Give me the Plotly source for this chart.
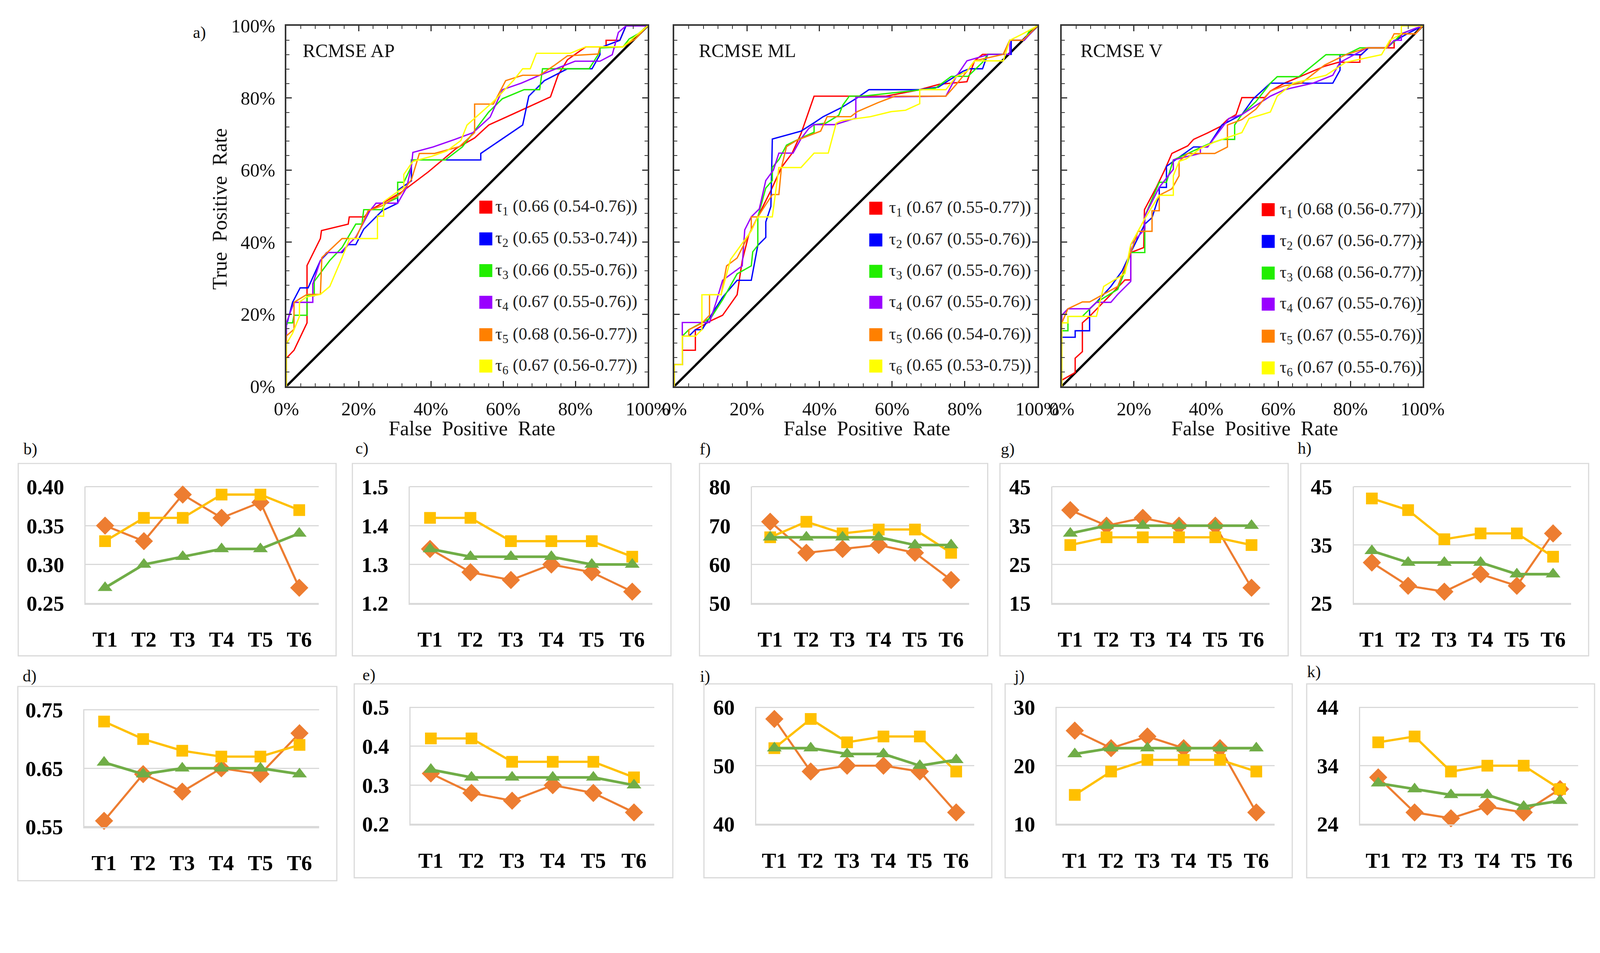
import plotly.graph_objects as go

W, H = 4331, 2439

# ---------------- ROC data (panel a: RCMSE AP) ----------------
AP_T1_FPR = [0, 0, .021, .057, .057, .094, .097, .171, .174, .216, .229, .316, .393, .470, .521, .560, .624, .731, .752, .778, .829, .885, .885, .923, .940, 1]
AP_T1_TPR = [0, .078, .100, .176, .335, .410, .432, .450, .470, .470, .487, .537, .595, .660, .689, .725, .754, .803, .863, .906, .942, .942, .960, .960, 1, 1]
AP_T2_FPR = [0, 0, .017, .038, .060, .094, .115, .154, .171, .192, .214, .265, .308, .308, .346, .346, .538, .538, .654, .671, .714, .778, .846, .868, .868, .923, .940, 1]
AP_T2_TPR = [0, .168, .233, .273, .273, .349, .371, .371, .393, .393, .436, .487, .508, .544, .570, .628, .628, .646, .725, .805, .848, .881, .881, .920, .939, .960, 1, 1]
AP_T3_FPR = [0, 0, .017, .021, .057, .057, .077, .077, .120, .154, .192, .209, .214, .265, .274, .308, .308, .325, .346, .346, .440, .487, .560, .598, .658, .701, .709, .838, .868, .868, .932, .949, .974, 1]
AP_T3_TPR = [0, .176, .176, .197, .197, .251, .251, .291, .349, .385, .450, .450, .490, .490, .508, .523, .566, .566, .610, .628, .628, .664, .761, .798, .823, .823, .881, .881, .928, .939, .942, .964, .978, 1]
AP_T4_FPR = [0, 0, .021, .073, .073, .094, .111, .150, .192, .231, .248, .308, .333, .346, .350, .406, .466, .517, .564, .598, .650, .701, .799, .868, .902, .919, .940, 1]
AP_T4_TPR = [0, .176, .233, .233, .284, .349, .371, .371, .414, .487, .508, .508, .552, .610, .649, .664, .685, .704, .747, .823, .841, .863, .902, .902, .920, .982, 1, 1]
AP_T5_FPR = [0, 0, .021, .021, .057, .094, .098, .120, .154, .192, .226, .265, .316, .346, .368, .410, .479, .521, .521, .573, .607, .654, .701, .744, .778, .863, .868, .932, .966, 1]
AP_T5_TPR = [0, .140, .158, .233, .255, .255, .357, .378, .410, .410, .487, .501, .534, .573, .646, .646, .665, .704, .783, .783, .848, .863, .863, .892, .917, .922, .942, .942, .964, 1]
AP_T6_FPR = [0, 0, .017, .036, .036, .056, .094, .120, .154, .175, .252, .252, .269, .269, .325, .325, .350, .402, .444, .483, .500, .573, .628, .654, .675, .692, .786, .829, .932, .974, 1]
AP_T6_TPR = [0, .118, .147, .194, .234, .248, .255, .277, .357, .410, .410, .472, .472, .512, .552, .588, .624, .638, .653, .682, .725, .790, .848, .881, .881, .924, .924, .942, .942, .978, 1]

# ---------------- ROC data (RCMSE ML) ----------------
ML_T1_FPR = [0, 0, .022, .022, .058, .058, .101, .133, .173, .187, .205, .230, .266, .295, .324, .349, .385, .583, .676, .730, .806, .827, .849, .906, .924, .960, 1]
ML_T1_TPR = [0, .060, .060, .100, .100, .157, .182, .197, .254, .348, .420, .470, .543, .607, .646, .701, .805, .805, .823, .838, .845, .903, .921, .921, .960, .960, 1]
ML_T2_FPR = [0, 0, .022, .022, .040, .058, .076, .133, .173, .212, .230, .252, .252, .266, .270, .349, .388, .410, .460, .500, .536, .676, .727, .795, .813, .849, .863, .928, .928, .960, 1]
ML_T2_TPR = [0, .060, .060, .139, .139, .157, .157, .247, .294, .294, .391, .413, .456, .499, .686, .708, .733, .748, .773, .798, .823, .823, .830, .874, .881, .881, .921, .921, .960, .960, 1]
ML_T3_FPR = [0, 0, .022, .022, .040, .101, .133, .173, .212, .216, .230, .230, .252, .270, .270, .288, .309, .345, .385, .385, .417, .453, .464, .482, .518, .676, .719, .763, .809, .849, .863, .906, .924, .964, .978, 1]
ML_T3_TPR = [0, .060, .060, .139, .157, .190, .240, .312, .334, .373, .391, .470, .550, .571, .607, .629, .669, .687, .705, .726, .730, .752, .780, .805, .805, .823, .827, .860, .860, .899, .921, .921, .960, .960, .986, 1]
ML_T4_FPR = [0, 0, .022, .022, .097, .115, .133, .187, .194, .212, .234, .252, .273, .288, .327, .349, .370, .385, .442, .500, .500, .748, .777, .806, .867, .924, .924, .964, 1]
ML_T4_TPR = [0, .060, .060, .177, .177, .233, .294, .334, .434, .470, .492, .571, .600, .647, .647, .687, .715, .726, .726, .744, .802, .805, .860, .903, .921, .921, .960, .960, 1]
ML_T5_FPR = [0, 0, .022, .022, .040, .040, .076, .097, .097, .129, .144, .173, .212, .212, .230, .270, .288, .295, .309, .338, .403, .421, .486, .504, .561, .608, .748, .777, .806, .827, .906, .924, .960, 1]
ML_T5_TPR = [0, .060, .060, .139, .139, .157, .175, .197, .254, .254, .334, .356, .434, .470, .470, .532, .532, .607, .665, .683, .708, .748, .748, .762, .787, .805, .805, .838, .874, .903, .921, .960, .960, 1]
ML_T6_FPR = [0, 0, .022, .022, .058, .076, .076, .129, .155, .173, .212, .230, .270, .288, .349, .385, .424, .446, .460, .540, .597, .637, .676, .676, .748, .777, .806, .827, .906, .924, .960, 1]
ML_T6_TPR = [0, .060, .060, .139, .139, .157, .254, .254, .352, .377, .431, .470, .470, .607, .607, .647, .647, .730, .737, .748, .762, .766, .784, .823, .823, .860, .874, .903, .903, .960, .978, 1]

# ---------------- ROC data (RCMSE V) ----------------
V_T1_FPR = [0, 0, .037, .037, .057, .057, .077, .136, .175, .191, .191, .227, .229, .262, .286, .305, .349, .365, .404, .440, .459, .483, .499, .562, .578, .617, .728, .767, .826, .826, .850, .921, .921, .945, .980, 1]
V_T1_TPR = [0, .017, .038, .078, .096, .176, .194, .255, .295, .295, .371, .385, .490, .552, .602, .646, .667, .685, .703, .721, .740, .754, .801, .801, .819, .841, .888, .899, .899, .917, .939, .939, .957, .978, .978, 1]
V_T2_FPR = [0, 0, .037, .037, .077, .077, .096, .136, .167, .191, .230, .250, .270, .270, .290, .290, .309, .365, .404, .444, .499, .530, .578, .751, .771, .771, .830, .850, .901, .921, .957, 1]
V_T2_TPR = [0, .136, .136, .154, .154, .215, .233, .277, .320, .371, .450, .468, .530, .552, .552, .610, .624, .664, .664, .725, .754, .797, .841, .841, .877, .920, .920, .939, .939, .957, .978, 1]
V_T3_FPR = [0, 0, .017, .017, .057, .096, .155, .175, .191, .230, .230, .270, .290, .309, .349, .404, .444, .479, .479, .499, .538, .578, .597, .657, .732, .787, .826, .901, .921, .941, .980, 1]
V_T3_TPR = [0, .154, .154, .194, .194, .233, .269, .320, .371, .371, .472, .566, .566, .628, .646, .671, .685, .685, .725, .754, .790, .841, .859, .859, .920, .920, .939, .939, .957, .978, .993, 1]
V_T4_FPR = [0, 0, .017, .077, .096, .136, .155, .191, .191, .230, .230, .270, .309, .309, .349, .384, .384, .404, .463, .499, .578, .617, .696, .751, .771, .846, .901, .921, .941, .941, .980, 1]
V_T4_TPR = [0, .197, .215, .215, .233, .233, .255, .291, .393, .436, .472, .552, .602, .628, .638, .646, .664, .664, .743, .754, .805, .823, .841, .863, .899, .939, .939, .960, .960, .978, .993, 1]
V_T5_FPR = [0, 0, .017, .057, .077, .116, .155, .191, .211, .250, .250, .270, .270, .305, .325, .325, .349, .424, .459, .459, .499, .538, .578, .617, .664, .728, .787, .846, .901, .921, .980, 1]
V_T5_TPR = [0, .176, .215, .234, .234, .255, .277, .371, .430, .430, .487, .487, .530, .548, .584, .624, .646, .646, .664, .725, .740, .769, .819, .834, .841, .891, .920, .939, .939, .978, .978, 1]
V_T6_FPR = [0, 0, .017, .017, .096, .116, .175, .191, .230, .270, .309, .309, .325, .345, .384, .424, .499, .519, .578, .597, .641, .732, .787, .886, .909, .941, .941, 1]
V_T6_TPR = [0, .176, .176, .194, .194, .277, .313, .393, .465, .530, .530, .584, .624, .631, .660, .678, .704, .743, .761, .805, .841, .863, .899, .920, .960, .978, 1, 1]

DIAG = [0, 1]

AP_AUC = ["0.66 (0.54-0.76)", "0.65 (0.53-0.74)", "0.66 (0.55-0.76)", "0.67 (0.55-0.76)", "0.68 (0.56-0.77)", "0.67 (0.56-0.77)"]
ML_AUC = ["0.67 (0.55-0.77)", "0.67 (0.55-0.76)", "0.67 (0.55-0.76)", "0.67 (0.55-0.76)", "0.66 (0.54-0.76)", "0.65 (0.53-0.75)"]
V_AUC = ["0.68 (0.56-0.77)", "0.67 (0.56-0.77)", "0.68 (0.56-0.77)", "0.67 (0.55-0.76)", "0.67 (0.55-0.76)", "0.67 (0.55-0.76)"]
ROC_TITLES = ["RCMSE AP", "RCMSE ML", "RCMSE V"]
ROC_COLORS = ["#FF0000", "#0000FF", "#22EE00", "#9900FF", "#FF8000", "#FFFF00"]

# ---------------- small line panels ----------------
CATS = ["T1", "T2", "T3", "T4", "T5", "T6"]
B_ORANGE = [0.35, 0.33, 0.39, 0.36, 0.38, 0.27]
B_YELLOW = [0.33, 0.36, 0.36, 0.39, 0.39, 0.37]
B_GREEN = [0.27, 0.30, 0.31, 0.32, 0.32, 0.34]
C_ORANGE = [1.34, 1.28, 1.26, 1.30, 1.28, 1.23]
C_YELLOW = [1.42, 1.42, 1.36, 1.36, 1.36, 1.32]
C_GREEN = [1.34, 1.32, 1.32, 1.32, 1.30, 1.30]
F_ORANGE = [71, 63, 64, 65, 63, 56]
F_YELLOW = [67, 71, 68, 69, 69, 63]
F_GREEN = [67, 67, 67, 67, 65, 65]
G_ORANGE = [39, 35, 37, 35, 35, 19]
G_YELLOW = [30, 32, 32, 32, 32, 30]
G_GREEN = [33, 35, 35, 35, 35, 35]
H_ORANGE = [32, 28, 27, 30, 28, 37]
H_YELLOW = [43, 41, 36, 37, 37, 33]
H_GREEN = [34, 32, 32, 32, 30, 30]
D_ORANGE = [0.56, 0.64, 0.61, 0.65, 0.64, 0.71]
D_YELLOW = [0.73, 0.70, 0.68, 0.67, 0.67, 0.69]
D_GREEN = [0.66, 0.64, 0.65, 0.65, 0.65, 0.64]
E_ORANGE = [0.33, 0.28, 0.26, 0.30, 0.28, 0.23]
E_YELLOW = [0.42, 0.42, 0.36, 0.36, 0.36, 0.32]
E_GREEN = [0.34, 0.32, 0.32, 0.32, 0.32, 0.30]
I_ORANGE = [58, 49, 50, 50, 49, 42]
I_YELLOW = [53, 58, 54, 55, 55, 49]
I_GREEN = [53, 53, 52, 52, 50, 51]
J_ORANGE = [26, 23, 25, 23, 23, 12]
J_YELLOW = [15, 19, 21, 21, 21, 19]
J_GREEN = [22, 23, 23, 23, 23, 23]
K_ORANGE = [32, 26, 25, 27, 26, 30]
K_YELLOW = [38, 39, 33, 34, 34, 30]
K_GREEN = [31, 30, 29, 29, 27, 28]

SERIF = "Liberation Serif"

# The photographed page shows the figure slightly magnified and shifted;
# positions below are given in reference-picture pixels and mapped back.
SC = 1.033
OX, OY = 44, 38


def fx(px):
    return ((px - OX) / SC) / W


def fy(py):
    return 1 - ((py - OY) / SC) / H


def sz(v):
    return v / SC


def isz(v):
    return int(round(v / SC))


fig = go.Figure()
layout = dict(width=W, height=H, margin=dict(l=0, r=0, t=0, b=0, pad=0),
              paper_bgcolor="white", plot_bgcolor="white", showlegend=False, autosize=False)
shapes = []
annotations = []

# ---------------- ROC panels ----------------
roc_sets = [
    [(AP_T1_FPR, AP_T1_TPR), (AP_T2_FPR, AP_T2_TPR), (AP_T3_FPR, AP_T3_TPR),
     (AP_T4_FPR, AP_T4_TPR), (AP_T5_FPR, AP_T5_TPR), (AP_T6_FPR, AP_T6_TPR)],
    [(ML_T1_FPR, ML_T1_TPR), (ML_T2_FPR, ML_T2_TPR), (ML_T3_FPR, ML_T3_TPR),
     (ML_T4_FPR, ML_T4_TPR), (ML_T5_FPR, ML_T5_TPR), (ML_T6_FPR, ML_T6_TPR)],
    [(V_T1_FPR, V_T1_TPR), (V_T2_FPR, V_T2_TPR), (V_T3_FPR, V_T3_TPR),
     (V_T4_FPR, V_T4_TPR), (V_T5_FPR, V_T5_TPR), (V_T6_FPR, V_T6_TPR)],
]
roc_aucs = [AP_AUC, ML_AUC, V_AUC]
roc_xpx = [(775, 1750), (1822, 2802), (2868, 3842)]
roc_ypx = (70, 1046)
leg_sq_x = [0.534, 0.537, 0.554]
leg_tx_x = [0.576, 0.589, 0.602]
leg_rows = [[0.497, 0.409, 0.321, 0.233, 0.143, 0.056],
            [0.494, 0.406, 0.319, 0.233, 0.143, 0.056],
            [0.490, 0.402, 0.314, 0.228, 0.139, 0.051]]
title_x = [0.043, 0.065, 0.05]
xtitle_px = [1276, 2342, 3389]
AXC = "#333333"

for p in range(3):
    n = p + 1
    xs = "" if n == 1 else str(n)
    xa = dict(domain=[fx(roc_xpx[p][0]), fx(roc_xpx[p][1])], anchor="y" + xs,
              range=[0, 1], tickvals=[0, 0.2, 0.4, 0.6, 0.8, 1.0], tickformat=".0%",
              ticks="inside", ticklen=sz(14), tickwidth=sz(3), tickcolor=AXC,
              showline=True, linecolor=AXC, linewidth=sz(4), mirror="ticks",
              showgrid=False, zeroline=False, fixedrange=True,
              minor=dict(dtick=0.04, tick0=0, ticks="inside", ticklen=sz(8), tickwidth=sz(2), tickcolor=AXC),
              tickfont=dict(family=SERIF, size=sz(50), color="#111111"), ticklabelstandoff=isz(12))
    ya = dict(xa)
    ya["domain"] = [fy(roc_ypx[1]), fy(roc_ypx[0])]
    ya["anchor"] = "x" + xs
    ya["showticklabels"] = (p == 0)
    ya["ticklabelstandoff"] = isz(16)
    layout["xaxis" + xs] = xa
    layout["yaxis" + xs] = ya

    fig.add_trace(go.Scatter(x=DIAG, y=DIAG, mode="lines", line=dict(color="black", width=sz(6)),
                             xaxis="x" + xs, yaxis="y" + xs, hoverinfo="skip"))
    for k, (fpr, tpr) in enumerate(roc_sets[p]):
        fig.add_trace(go.Scatter(x=fpr, y=tpr, mode="lines",
                                 line=dict(color=ROC_COLORS[k], width=sz(3.5)),
                                 xaxis="x" + xs, yaxis="y" + xs))
        yc = leg_rows[p][k]
        shapes.append(dict(type="rect", xref="x" + xs + " domain", yref="y" + xs + " domain",
                           x0=leg_sq_x[p], x1=leg_sq_x[p] + 0.036, y0=yc - 0.018, y1=yc + 0.018,
                           fillcolor=ROC_COLORS[k], line=dict(width=0)))
        annotations.append(dict(xref="x" + xs + " domain", yref="y" + xs + " domain",
                                x=leg_tx_x[p], y=yc, xanchor="left", yanchor="middle", showarrow=False,
                                text="τ<sub>%d</sub> (%s)" % (k + 1, roc_aucs[p][k]),
                                font=dict(family=SERIF, size=sz(46), color="#222222")))
    annotations.append(dict(xref="x" + xs + " domain", yref="y" + xs + " domain",
                            x=title_x[p], y=0.931, xanchor="left", yanchor="middle", showarrow=False,
                            text=ROC_TITLES[p], font=dict(family=SERIF, size=sz(50), color="#111111")))
    annotations.append(dict(xref="paper", yref="paper", x=fx(xtitle_px[p]), y=fy(1160),
                            xanchor="center", yanchor="middle", showarrow=False,
                            text="False  Positive  Rate", font=dict(family=SERIF, size=sz(54), color="#111111")))

annotations.append(dict(xref="paper", yref="paper", x=fx(594), y=fy(566), textangle=-90,
                        xanchor="center", yanchor="middle", showarrow=False,
                        text="True  Positive  Rate", font=dict(family=SERIF, size=sz(54), color="#111111")))
annotations.append(dict(xref="paper", yref="paper", x=fx(521), y=fy(88), xanchor="left", yanchor="middle",
                        showarrow=False, text="a)", font=dict(family=SERIF, size=sz(44), color="#111111")))

# ---------------- small panels ----------------
small = [
    ("b)", (B_ORANGE, B_YELLOW, B_GREEN), (0.25, 0.40), 0.05, ".2f", (233, 862), (1317, 1635), (51, 909), (1255, 1776), (63, 1216)),
    ("c)", (C_ORANGE, C_YELLOW, C_GREEN), (1.2, 1.5), 0.1, ".1f", (1108, 1763), (1317, 1635), (953, 1813), (1255, 1776), (959, 1214)),
    ("f)", (F_ORANGE, F_YELLOW, F_GREEN), (50, 80), 10, "d", (2032, 2618), (1317, 1635), (1890, 2668), (1255, 1776), (1888, 1216)),
    ("g)", (G_ORANGE, G_YELLOW, G_GREEN), (15, 45), 10, "d", (2842, 3429), (1317, 1635), (2701, 3479), (1255, 1776), (2701, 1216)),
    ("h)", (H_ORANGE, H_YELLOW, H_GREEN), (25, 45), 10, "d", (3656, 4243), (1317, 1635), (3513, 4290), (1255, 1776), (3502, 1214)),
    ("d)", (D_ORANGE, D_YELLOW, D_GREEN), (0.55, 0.75), 0.1, ".2f", (230, 863), (1921, 2240), (50, 911), (1859, 2385), (61, 1830)),
    ("e)", (E_ORANGE, E_YELLOW, E_GREEN), (0.2, 0.5), 0.1, ".1f", (1110, 1768), (1914, 2233), (958, 1818), (1852, 2377), (978, 1827)),
    ("i)", (I_ORANGE, I_YELLOW, I_GREEN), (40, 60), 10, "d", (2043, 2632), (1914, 2233), (1902, 2679), (1852, 2377), (1889, 1832)),
    ("j)", (J_ORANGE, J_YELLOW, J_GREEN), (10, 30), 10, "d", (2854, 3442), (1914, 2233), (2715, 3490), (1852, 2377), (2736, 1830)),
    ("k)", (K_ORANGE, K_YELLOW, K_GREEN), (24, 44), 10, "d", (3673, 4262), (1914, 2233), (3529, 4306), (1852, 2377), (3528, 1819)),
]
SER_STYLE = [
    dict(color="#ED7D31", symbol="diamond", size=37, width=5.5),
    dict(color="#FFC000", symbol="square", size=31, width=6),
    dict(color="#70AD47", symbol="triangle-up", size=34, width=7),
]
GRID = "#D9D9D9"
tickfont_small = dict(family=SERIF, size=sz(57), color="black", weight="bold")

for i, (lab, series, yr, dt, fmt, pxx, pyy, bxx, byy, lpos) in enumerate(small):
    n = str(i + 4)
    pad = (yr[1] - yr[0]) * 0.004
    layout["xaxis" + n] = dict(domain=[fx(pxx[0]), fx(pxx[1])], anchor="y" + n, type="category",
                               range=[-0.5, 5.5], showline=True, linecolor=GRID, linewidth=sz(3),
                               ticks="", showgrid=False, zeroline=False, fixedrange=True,
                               tickfont=tickfont_small, ticklabelstandoff=isz(42))
    layout["yaxis" + n] = dict(domain=[fy(pyy[1]), fy(pyy[0])], anchor="x" + n,
                               range=[yr[0] - pad, yr[1] + pad], tick0=yr[0], dtick=dt, tickformat=fmt,
                               showline=True, linecolor=GRID, linewidth=sz(3), showgrid=True,
                               gridcolor=GRID, gridwidth=sz(3), zeroline=False, ticks="", fixedrange=True,
                               tickfont=tickfont_small, ticklabelstandoff=isz(42))
    for s, vals in enumerate(series):
        st = SER_STYLE[s]
        fig.add_trace(go.Scatter(x=CATS, y=vals, mode="lines+markers", xaxis="x" + n, yaxis="y" + n,
                                 line=dict(color=st["color"], width=sz(st["width"])),
                                 marker=dict(symbol=st["symbol"], size=sz(st["size"]), color=st["color"],
                                             line=dict(width=0)),
                                 cliponaxis=False))
    shapes.append(dict(type="rect", xref="paper", yref="paper", x0=fx(bxx[0]), x1=fx(bxx[1]),
                       y0=fy(byy[1]), y1=fy(byy[0]), line=dict(color=GRID, width=sz(3)),
                       fillcolor="rgba(0,0,0,0)", layer="below"))
    annotations.append(dict(xref="paper", yref="paper", x=fx(lpos[0]), y=fy(lpos[1]), xanchor="left",
                            yanchor="middle", showarrow=False, text=lab,
                            font=dict(family=SERIF, size=sz(44), color="#111111")))

layout["shapes"] = shapes
layout["annotations"] = annotations
fig.update_layout(**layout)
fig.write_html("out.html")
